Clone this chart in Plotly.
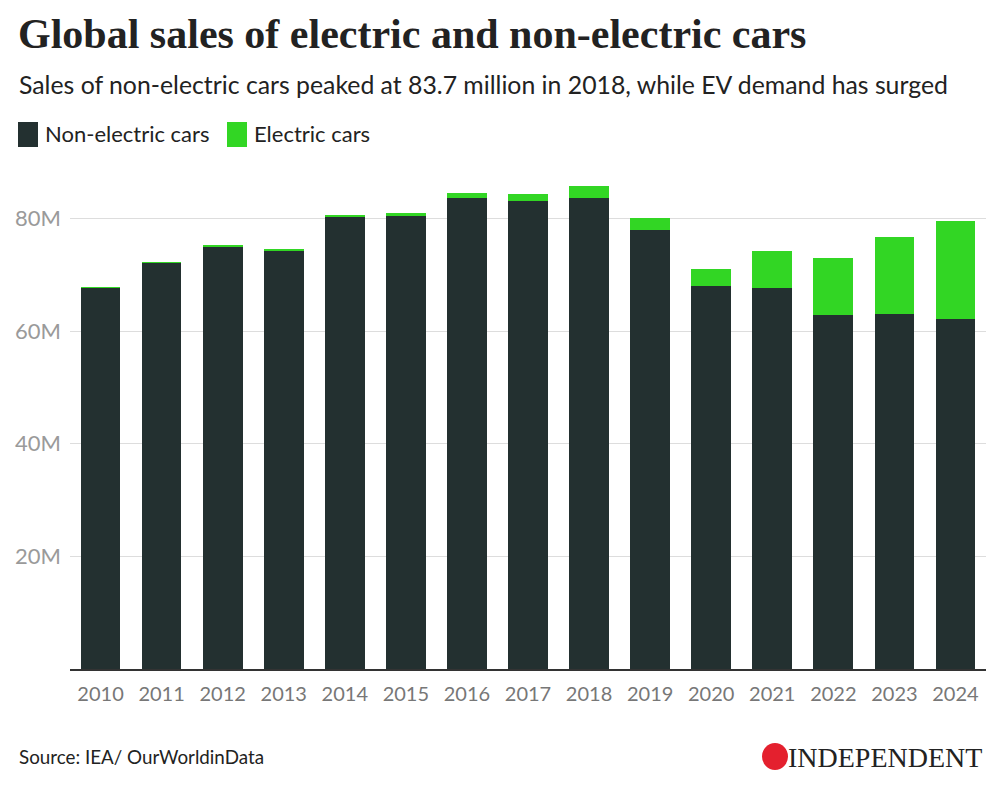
import plotly.graph_objects as go

years = [str(y) for y in range(2010, 2025)]
non_electric = [67.8, 72.1, 75.1, 74.3, 80.3, 80.5, 83.6, 83.1, 83.7, 77.9, 68.0, 67.6, 62.8, 63.1, 62.1]
electric = [0.01, 0.02, 0.2, 0.3, 0.3, 0.5, 1.0, 1.2, 2.1, 2.1, 3.0, 6.7, 10.2, 13.6, 17.5]
series_names = ["Non-electric cars", "Electric cars"]
colors = ["#233030", "#32d624"]
y_ticks = [0, 20, 40, 60, 80]
y_tick_labels = ["", "20M", "40M", "60M", "80M"]

fig = go.Figure()
fig.add_trace(go.Bar(x=years, y=non_electric, name=series_names[0],
                     marker=dict(color=colors[0], line=dict(width=0))))
fig.add_trace(go.Bar(x=years, y=electric, name=series_names[1],
                     marker=dict(color=colors[1], line=dict(width=0))))

W, H = 1000, 790
L, R, T, B = 70, 14, 170, 121

fig.update_layout(
    width=W, height=H, barmode="stack", bargap=0.35,
    margin=dict(l=L, r=R, t=T, b=B),
    paper_bgcolor="white", plot_bgcolor="white",
    showlegend=False,
    font=dict(family="Lato", color="#222"),
    xaxis=dict(type="category", showgrid=False, showline=True, linecolor="#333",
               linewidth=1.5, ticks="", tickfont=dict(size=20, color="#777"),
               ticklabelstandoff=6),
    yaxis=dict(range=[0, 88.6], tickvals=y_ticks, ticktext=y_tick_labels,
               showgrid=True, gridcolor="#dddddd", gridwidth=1, zeroline=False,
               ticks="", tickfont=dict(size=22, color="#9a9a9a"),
               ticklabelstandoff=8),
)


def px_x(p):
    return (p - L) / (W - L - R)


def px_y(p):
    return (H - B - p) / (H - T - B)


# Title / subtitle
fig.add_annotation(text="<b>Global sales of electric and non-electric cars</b>",
                   xref="paper", yref="paper", x=px_x(16), y=px_y(34),
                   xanchor="left", yanchor="middle", showarrow=False,
                   font=dict(family="Liberation Serif", size=42, color="#222"))
fig.add_annotation(text="Sales of non-electric cars peaked at 83.7 million in 2018, while EV demand has surged",
                   xref="paper", yref="paper", x=px_x(17), y=px_y(85),
                   xanchor="left", yanchor="middle", showarrow=False,
                   font=dict(family="Lato", size=24.8, color="#222"))

# Legend (drawn)
leg = [(18, 43), (227, 252)]
for (sx, tx), name, col in zip(leg, series_names, colors):
    fig.add_shape(type="rect", xref="paper", yref="paper",
                  x0=px_x(sx), x1=px_x(sx + 20), y0=px_y(122), y1=px_y(147),
                  fillcolor=col, line=dict(width=0))
    fig.add_annotation(text=name, xref="paper", yref="paper", x=px_x(tx), y=px_y(134),
                       xanchor="left", yanchor="middle", showarrow=False,
                       font=dict(family="Lato", size=22, color="#222"))

# Source
fig.add_annotation(text="Source: IEA/ OurWorldinData", xref="paper", yref="paper",
                   x=px_x(17), y=px_y(756), xanchor="left", yanchor="middle", showarrow=False,
                   font=dict(family="Lato", size=18.8, color="#222"))

# Logo
fig.add_shape(type="circle", xref="paper", yref="paper",
              x0=px_x(762), x1=px_x(788), y0=px_y(743), y1=px_y(770),
              fillcolor="#e4202e", line=dict(width=0))
fig.add_annotation(text="INDEPENDENT", xref="paper", yref="paper",
                   x=px_x(984), y=px_y(757), xanchor="right", yanchor="middle", showarrow=False,
                   font=dict(family="Liberation Serif", size=28, color="#222"))

fig.write_html("out.html", config={"displayModeBar": False},
               post_script="document.body.style.margin='0';")
